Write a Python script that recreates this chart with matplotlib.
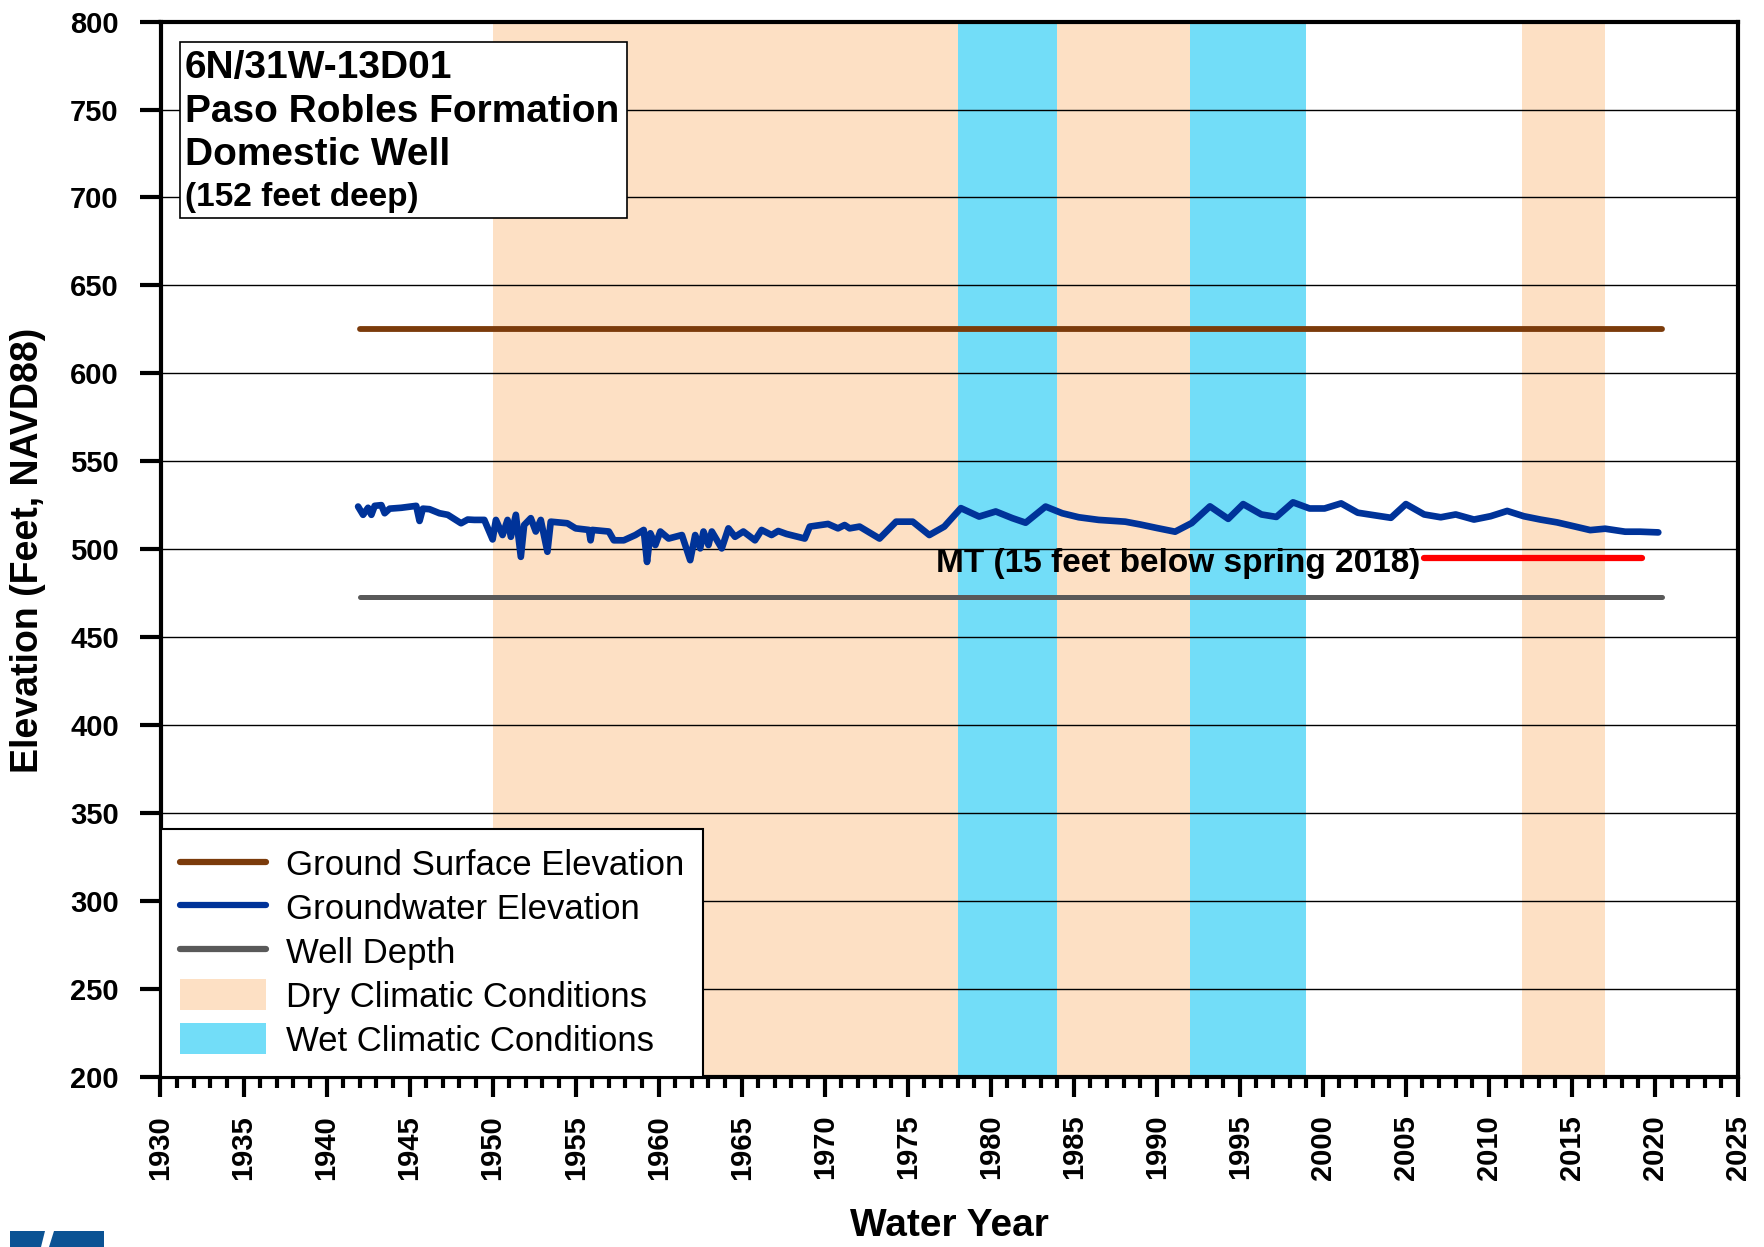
import matplotlib
matplotlib.use("Agg")
import matplotlib.pyplot as plt
from matplotlib.lines import Line2D
from matplotlib.patches import Patch, Rectangle, Polygon
from matplotlib.ticker import MultipleLocator

plt.rcParams['font.family'] = ['Liberation Sans', 'DejaVu Sans']

# groundwater level record (water year, elevation ft NAVD88)
gw_years = [1941.9, 1942.2, 1942.5, 1942.7, 1942.9, 1943.3, 1943.5, 1943.8, 1944.5, 1945.4,
            1945.6, 1945.8, 1946.2, 1946.8, 1947.3, 1948.1, 1948.5, 1948.9, 1949.5, 1950.0,
            1950.2, 1950.6, 1950.9, 1951.1, 1951.4, 1951.7, 1951.9, 1952.3, 1952.6, 1952.9,
            1953.3, 1953.5, 1954.5, 1955.0, 1955.8, 1955.9, 1956.0, 1957.0, 1957.3, 1957.9,
            1958.6, 1959.1, 1959.3, 1959.5, 1959.8, 1960.1, 1960.6, 1961.4, 1961.9, 1962.2,
            1962.5, 1962.7, 1963.0, 1963.2, 1963.8, 1964.2, 1964.6, 1965.1, 1965.8, 1966.2,
            1966.8, 1967.2, 1967.7, 1968.8, 1969.1, 1970.2, 1970.8, 1971.2, 1971.5, 1972.1,
            1973.3, 1974.3, 1975.3, 1976.3, 1977.2, 1978.2, 1979.3, 1980.3, 1981.3, 1982.1,
            1983.3, 1984.3, 1985.3, 1986.5, 1988.1, 1989.0, 1990.0, 1991.1, 1992.1, 1993.2,
            1994.3, 1995.2, 1996.3, 1997.2, 1998.2, 1999.2, 2000.1, 2001.1, 2002.1, 2003.2,
            2004.1, 2005.0, 2006.1, 2007.1, 2008.0, 2009.1, 2010.1, 2011.1, 2012.1, 2013.1,
            2014.1, 2015.2, 2016.1, 2017.0, 2018.2, 2019.1, 2020.2]
gw_elev = [524.2, 519.5, 523.5, 519.5, 524.6, 525.0, 520.4, 523.0, 523.5, 524.6,
           516.0, 523.0, 522.7, 520.4, 519.5, 514.7, 516.8, 516.6, 516.6, 505.5,
           516.6, 508.0, 516.6, 507.0, 519.5, 495.6, 513.7, 517.6, 510.0, 516.6,
           498.5, 515.6, 514.7, 511.8, 510.9, 505.0, 510.9, 510.0, 505.0, 505.0,
           508.0, 510.9, 492.7, 509.0, 502.3, 510.0, 506.0, 508.0, 493.7, 508.0,
           500.4, 510.0, 502.3, 510.0, 500.4, 511.8, 507.0, 510.0, 505.0, 510.9,
           508.0, 510.3, 508.6, 506.0, 512.8, 514.3, 511.8, 513.7, 511.8, 512.8,
           506.0, 515.6, 515.6, 508.0, 512.8, 523.3, 518.5, 521.4, 517.6, 515.0,
           524.2, 520.4, 518.1, 516.6, 515.6, 514.0, 512.0, 509.9, 514.8, 524.3,
           517.2, 525.6, 519.7, 518.3, 526.6, 523.1, 523.1, 526.0, 520.7, 519.1,
           517.8, 525.6, 519.7, 518.1, 519.7, 516.8, 518.7, 521.7, 518.7, 516.8,
           515.2, 512.8, 510.8, 511.6, 509.9, 509.9, 509.5]

ref_years = [1942, 2020.4]
ground_surface = 625
well_depth = 473
mt_years = [2006.1, 2019.2]
mt_level = 495

dry_periods = [(1950, 1978), (1984, 1992), (2012, 2017)]
wet_periods = [(1978, 1984), (1992, 1999)]

well_lines = ['6N/31W-13D01', 'Paso Robles Formation', 'Domestic Well']
well_note = '(152 feet deep)'
mt_label = 'MT (15 feet below spring 2018)'

dry_color = '#FDE0C4'
wet_color = '#72DDF8'
brown = '#7B3B0B'
blue = '#003399'
gray = '#595959'

W, H = 1764, 1247
fig = plt.figure(figsize=(W / 100, H / 100), dpi=100)
ax = fig.add_axes([160.5 / W, 1 - 1076.6 / H, 1577.5 / W, 1055 / H])

for a, b in dry_periods:
    ax.axvspan(a, b, color=dry_color, lw=0, zorder=0.5)
for a, b in wet_periods:
    ax.axvspan(a, b, color=wet_color, lw=0, zorder=0.5)

ax.plot(ref_years, [ground_surface] * 2, color=brown, lw=4.2, solid_capstyle='round', zorder=3)
ax.plot(ref_years, [well_depth] * 2, color=gray, lw=3.6, solid_capstyle='round', zorder=3)
ax.plot(gw_years, gw_elev, color=blue, lw=4.8, solid_capstyle='round',
        solid_joinstyle='round', zorder=4)
ax.plot(mt_years, [mt_level] * 2, color='red', lw=4.5, solid_capstyle='round', zorder=4)

ax.text(1976.7, 492, mt_label, fontsize=24, fontweight='bold', va='center', ha='left',
        family=['Liberation Sans Narrow', 'Liberation Sans'], zorder=5)

ax.set_xlim(1930, 2025)
ax.set_ylim(200, 800)
ax.set_xticks(range(1930, 2026, 5))
ax.xaxis.set_minor_locator(MultipleLocator(1))
ax.set_yticks(range(200, 801, 50))
ax.grid(axis='y', color='black', lw=1.0, zorder=1)
ax.grid(axis='x', visible=False)

for s in ax.spines.values():
    s.set_linewidth(3)
ax.tick_params(axis='both', which='major', direction='out', width=3, labelsize=21)
ax.tick_params(axis='x', which='major', length=14.5, pad=13, labelrotation=90)
ax.tick_params(axis='x', which='minor', direction='out', length=8, width=3)
ax.tick_params(axis='y', which='major', length=15, pad=15)
for lbl in ax.get_xticklabels() + ax.get_yticklabels():
    lbl.set_fontweight('bold')

# well id box
ax.add_patch(Rectangle((0.0124, 0.8136), 0.2836, 0.1674, transform=ax.transAxes,
                       facecolor='white', edgecolor='black', lw=1.2, zorder=6))
for i, line in enumerate(well_lines):
    ax.text(0.0155, 0.9563 - i * 0.0416, line, transform=ax.transAxes, fontsize=28,
            fontweight='bold', va='center', ha='left', zorder=7)
ax.text(0.0155, 0.8336, well_note, transform=ax.transAxes, fontsize=24,
        fontweight='bold', va='center', ha='left', zorder=7)

handles = [
    Line2D([], [], color=brown, lw=4.5, solid_capstyle='round'),
    Line2D([], [], color=blue, lw=4.5, solid_capstyle='round'),
    Line2D([], [], color=gray, lw=4.5, solid_capstyle='round'),
    Patch(facecolor=dry_color, edgecolor='none'),
    Patch(facecolor=wet_color, edgecolor='none'),
]
labels = ['Ground Surface Elevation', 'Groundwater Elevation', 'Well Depth',
          'Dry Climatic Conditions', 'Wet Climatic Conditions']
leg = ax.legend(handles, labels, loc='lower left', bbox_to_anchor=(0, 0), borderaxespad=0,
                fontsize=25, frameon=True, fancybox=False, edgecolor='black', framealpha=1,
                handlelength=2.5, handleheight=1.0, handletextpad=0.55,
                labelspacing=0.27, borderpad=0.55)
leg.get_frame().set_linewidth(1.5)
leg.set_zorder(8)

fig.text(28 / W, 1 - 550 / H, 'Elevation (Feet, NAVD88)', rotation=90, fontsize=27,
         fontweight='bold', ha='center', va='center')
fig.text(949 / W, 1 - 1226 / H, 'Water Year', fontsize=28, fontweight='bold',
         ha='center', va='center')

# partial logo at the bottom-left corner
logo_left = [(10, 1231), (45, 1231), (41, 1247), (10, 1247)]
logo_right = [(54, 1231), (104, 1231), (104, 1247), (49, 1247)]
for pts in (logo_left, logo_right):
    fig.patches.append(Polygon([(x / W, 1 - y / H) for x, y in pts], closed=True,
                               transform=fig.transFigure, facecolor='#0B5394',
                               edgecolor='none'))

fig.savefig('out.png', dpi=100)
